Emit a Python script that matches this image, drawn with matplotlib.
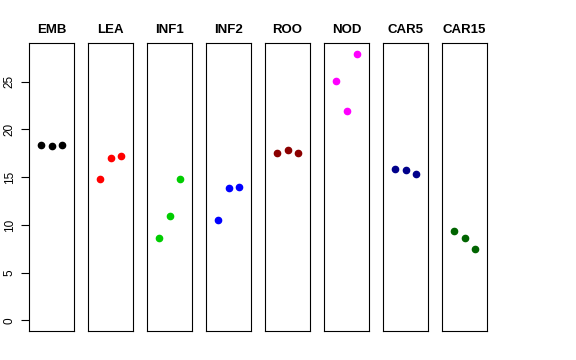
import numpy as np
import matplotlib
matplotlib.use("Agg")
import matplotlib.pyplot as plt

plt.rcParams['font.family'] = ['Liberation Sans', 'DejaVu Sans']

# tissues and the three replicate values per tissue
tissues = ["EMB", "LEA", "INF1", "INF2", "ROO", "NOD", "CAR5", "CAR15"]
emb = [18.41, 18.27, 18.34]
lea = [14.85, 17.02, 17.19]
inf1 = [8.67, 10.94, 14.85]
inf2 = [10.49, 13.87, 13.94]
roo = [17.54, 17.85, 17.57]
nod = [25.05, 21.90, 27.94]
car5 = [15.83, 15.73, 15.34]
car15 = [9.40, 8.67, 7.46]
values = [emb, lea, inf1, inf2, roo, nod, car5, car15]
colors = ["black", "red", "#00CD00", "blue", "#8B0000", "magenta", "#00008B", "#006400"]
yticks = [0, 5, 10, 15, 20, 25]

W, H = 576, 360
fig = plt.figure(figsize=(W / 100, H / 100), dpi=100)

ymax = max(max(v) for v in values)
ylim = (-0.04 * ymax, ymax * 1.04)

left, bottom, top = 29, 331, 43
pw, step = 45, 59
for i, (name, vals, col) in enumerate(zip(tissues, values, colors)):
    x0 = left + i * step
    ax = fig.add_axes([x0 / W, 1 - bottom / H, pw / W, (bottom - top) / H])
    ax.plot([1, 2, 3], vals, 'o', color=col, ms=4.5, mec=col)
    ax.set_xlim(-0.16, 4.16)
    ax.set_ylim(*ylim)
    ax.set_xticks([])
    for s in ax.spines.values():
        s.set_linewidth(0.8)
    ax.set_title(name, fontsize=9.5, fontweight='bold', pad=7)
    if i == 0:
        ax.set_yticks(yticks)
        ax.tick_params(axis='y', length=5.5, width=0.8, pad=4, labelsize=8.5)
        for lab in ax.get_yticklabels():
            lab.set_rotation(90)
            lab.set_va('center')
    else:
        ax.set_yticks([])

fig.savefig("out.png", dpi=100)
